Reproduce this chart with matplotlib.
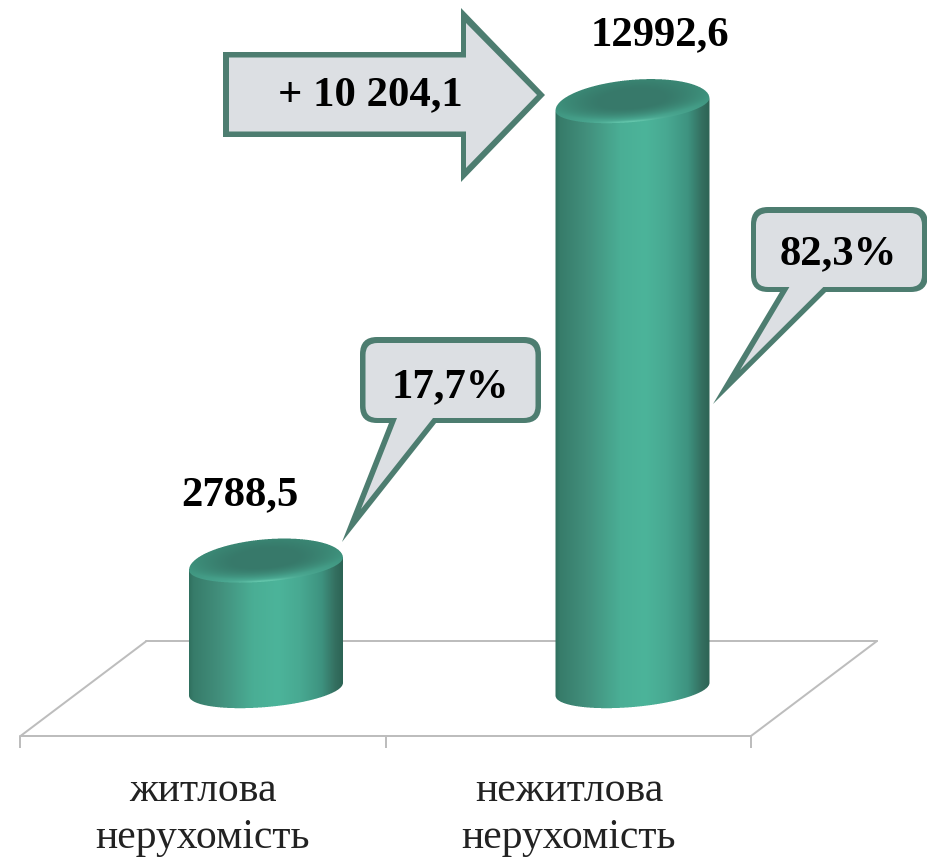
import numpy as np
import matplotlib
matplotlib.use("Agg")
import matplotlib.pyplot as plt
from matplotlib.path import Path
from matplotlib.patches import PathPatch
from matplotlib.colors import to_rgb

# ---- data ----
categories = ["житлова\nнерухомість", "нежитлова\nнерухомість"]
values = [2788.5, 12992.6]
value_labels = ["2788,5", "12992,6"]
share_labels = ["17,7%", "82,3%"]
difference_label = "+ 10 204,1"

W, H = 928, 858
SERIF = "Liberation Serif"
EDGE = "#4d7d70"
FILL = "#dcdfe3"
GRID = "#bdbdbd"
PT = 72 / 100  # one pixel in points

fig = plt.figure(figsize=(W / 100, H / 100), dpi=100, facecolor="white")

# value axes: the bars are scaled through this one
BASE_PX, PX_PER_UNIT = 689.4, 585.0 / 12992.6
CX0, CX1 = 266.0, 632.5
ax = fig.add_axes([0, 0, 1, 1])
ax.set_xlim((0 - CX0) / (CX1 - CX0), (W - CX0) / (CX1 - CX0))
ax.set_ylim((BASE_PX - H) / PX_PER_UNIT, BASE_PX / PX_PER_UNIT)
ax.axis("off")

# overlay in figure pixels for drawing shapes and text
ov = fig.add_axes([0, 0, 1, 1])
ov.set_xlim(0, W)
ov.set_ylim(H, 0)
ov.axis("off")
ov.patch.set_alpha(0)


def to_px(x, y):
    return ov.transData.inverted().transform(ax.transData.transform((x, y)))


# ---- floor ----
fx0, fx1, fx2 = 20.5, 386, 751
fy, by, dx = 736, 641, 126
floor = [[(fx0, fy), (fx2, fy)], [(fx0 + dx, by), (fx2 + dx, by)],
         [(fx0, fy), (fx0 + dx, by)], [(fx2, fy), (fx2 + dx, by)]]
for seg in floor:
    (x0, y0), (x1, y1) = seg
    ov.plot([x0, x1], [y0, y1], color=GRID, lw=2 * PT, solid_capstyle="round", zorder=1)
for x in (fx0, fx1, fx2):
    ov.plot([x, x], [fy, fy + 12], color=GRID, lw=2 * PT, solid_capstyle="butt", zorder=1)

# ---- cylinders ----
A, B_UP, B_LO, THETA = 77.2, 24.5, 17.6, np.deg2rad(5.0)
SIDE_T = [0.0, 0.03, 0.2, 0.42, 0.58, 0.72, 0.86, 0.95, 1.0]
SIDE_C = np.array([to_rgb(c) for c in ["#2f6f5e", "#377c6a", "#428f7c", "#4aae95",
                                       "#4cb49a", "#48a992", "#3e9380", "#346f60", "#2c6354"]])
TOP_DARK = np.array(to_rgb("#37796a"))
RIM_BACK = np.array(to_rgb("#3c8e79"))
RIM_FRONT = np.array(to_rgb("#4aa892"))
HIGHLIGHT = np.array(to_rgb("#66c9ae"))


def ell_uv(X, Y, cx, cy):
    dxx, dyy = X - cx, Y - cy
    # screen y points down; the ellipse rises to the right
    u = (dxx * np.cos(THETA) - dyy * np.sin(THETA)) / A
    raw = dxx * np.sin(THETA) + dyy * np.cos(THETA)
    v = np.where(raw < 0, raw / B_UP, raw / B_LO)
    re = np.sqrt(u ** 2 + v ** 2)
    return u, v, re


def draw_cylinder(cat, value):
    cx, cb = to_px(cat, 0)
    _, ct = to_px(cat, value)
    hw = 77.0
    ss = 4
    x0, x1 = int(cx - hw - 3), int(cx + hw + 4)
    y0, y1 = int(ct - 30), int(cb + 28)
    xs = (np.arange((x1 - x0) * ss) + 0.5) / ss + x0
    ys = (np.arange((y1 - y0) * ss) + 0.5) / ss + y0
    X, Y = np.meshgrid(xs, ys)
    t = np.clip((X - (cx - hw)) / (2 * hw), 0, 1)
    rgb = np.stack([np.interp(t, SIDE_T, SIDE_C[:, i]) for i in range(3)], axis=-1)
    ut, vt, re = ell_uv(X, Y, cx, ct)
    ub, vb, reb = ell_uv(X, Y, cx, cb)
    body = np.abs(X - cx) <= hw
    in_top = (re <= 1) & body
    in_bot = (reb <= 1) & body
    slope = -np.tan(THETA)
    mid_t = ct + (X - cx) * slope
    mid_b = cb + (X - cx) * slope
    in_body = body & (Y >= mid_t) & (Y <= mid_b)
    mask = in_top | in_bot | in_body
    # top face: dark centre, lighter rim, narrow highlight along the front edge
    r = np.sqrt(ut ** 2 + (vt + 0.2) ** 2)
    w = np.clip((r - 0.4) / 0.6, 0, 1) ** 1.3
    f = np.clip((vt + 1) / 2, 0, 1) ** 2
    rim = RIM_BACK[None, None, :] * (1 - f[..., None]) + RIM_FRONT[None, None, :] * f[..., None]
    top_rgb = TOP_DARK[None, None, :] * (1 - w[..., None]) + rim * w[..., None]
    hl = np.exp(-((re - 0.97) / 0.09) ** 2) * np.clip(vt, 0, 1) ** 2 * np.exp(-((ut + 0.05) / 0.38) ** 2)
    top_rgb = top_rgb * (1 - hl[..., None]) + HIGHLIGHT[None, None, :] * hl[..., None]
    rgb = np.where(in_top[..., None], top_rgb, rgb)
    alpha = mask.astype(float)
    premult = rgb * alpha[..., None]
    h, wd = alpha.shape
    h2, w2 = h // ss, wd // ss
    a = alpha.reshape(h2, ss, w2, ss).mean(axis=(1, 3))
    c = premult.reshape(h2, ss, w2, ss, 3).mean(axis=(1, 3))
    c = c / np.maximum(a[..., None], 1e-6)
    img = np.dstack([np.clip(c, 0, 1), a])
    ov.imshow(img, extent=(x0, x1, y1, y0), interpolation="bilinear", zorder=3, aspect="auto")


for i, v in enumerate(values):
    draw_cylinder(i, v)
ov.set_xlim(0, W)
ov.set_ylim(H, 0)


# ---- callouts: an outer filled shape in the edge colour, an inner one in the fill ----
def callout_path(x0, y0, x1, y1, tail_l, tail_r, tip, rad):
    verts = [(x0 + rad, y0), (x1 - rad, y0), (x1, y0), (x1, y0 + rad), (x1, y1 - rad),
             (x1, y1), (x1 - rad, y1), (tail_r, y1), tip, (tail_l, y1), (x0 + rad, y1),
             (x0, y1), (x0, y1 - rad), (x0, y0 + rad), (x0, y0), (x0 + rad, y0)]
    codes = [Path.MOVETO, Path.LINETO, Path.CURVE3, Path.CURVE3, Path.LINETO,
             Path.CURVE3, Path.CURVE3, Path.LINETO, Path.LINETO, Path.LINETO, Path.LINETO,
             Path.CURVE3, Path.CURVE3, Path.LINETO, Path.CURVE3, Path.CURVE3]
    return Path(verts, codes)


def add_shape(path, color):
    ov.add_patch(PathPatch(path, fc=color, ec="none", lw=0, zorder=5))


add_shape(callout_path(360, 337, 541, 423, 389, 436, (342, 542), 17), EDGE)
add_shape(callout_path(365.5, 343, 535.5, 418, 397, 433, (361, 509), 12), FILL)
add_shape(callout_path(751, 207, 928, 292, 780, 826, (713, 404), 17), EDGE)
add_shape(callout_path(756, 213, 922, 287, 789.4, 823.3, (740, 370), 12), FILL)

# ---- arrow ----
arrow_outer = [(223, 52), (461, 52), (461, 8), (545, 95), (461, 182), (461, 137), (223, 137), (223, 52)]
arrow_inner = [(229, 57.5), (466, 57.5), (466, 23), (537, 95), (466, 168), (466, 131.5), (229, 131.5), (229, 57.5)]
arrow_c = [Path.MOVETO] + [Path.LINETO] * 6 + [Path.CLOSEPOLY]
add_shape(Path(arrow_outer, arrow_c), EDGE)
add_shape(Path(arrow_inner, arrow_c), FILL)

# ---- text ----
bold = dict(family=SERIF, fontweight="bold", fontsize=30.8, color="black", ha="center",
            va="baseline", zorder=6)
ov.text(240, 505, value_labels[0], **bold)
ov.text(660, 45, value_labels[1], **bold)
ov.text(450, 397, share_labels[0], **bold)
ov.text(838.5, 264, share_labels[1], **bold)
ov.text(370, 105, difference_label, **bold)

label_x = [203, 569]
for x, lab in zip(label_x, categories):
    l1, l2 = lab.split("\n")
    ov.text(x, 801, l1, family=SERIF, fontsize=30, color="#222222", ha="center", va="baseline", zorder=6)
    ov.text(x, 848, l2, family=SERIF, fontsize=30, color="#222222", ha="center", va="baseline", zorder=6)

fig.savefig("out.png", dpi=100, facecolor="white")
